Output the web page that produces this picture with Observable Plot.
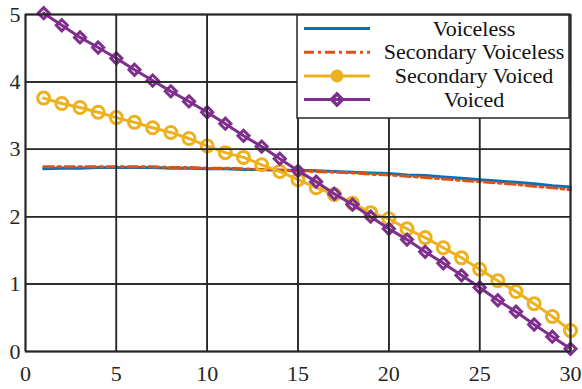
<!DOCTYPE html>
<html>
<head>
<meta charset="utf-8">
<script src="https://cdn.jsdelivr.net/npm/d3@7"></script>
<script src="https://cdn.jsdelivr.net/npm/@observablehq/plot@0.6"></script>
<style>
  html, body { margin: 0; padding: 0; background: #fff; }
  #chart svg { display: block; }
  #chart svg text { font-family: "Liberation Serif", "Times New Roman", Times, serif !important; }
</style>
</head>
<body>
<div id="chart"></div>
<script>
// ---- data ----
const xs = [1,2,3,4,5,6,7,8,9,10,11,12,13,14,15,16,17,18,19,20,21,22,23,24,25,26,27,28,29,30];
const voiceless = [2.71,2.72,2.72,2.73,2.73,2.73,2.73,2.72,2.72,2.71,2.71,2.70,2.70,2.69,2.69,2.68,2.67,2.66,2.65,2.64,2.62,2.61,2.59,2.57,2.55,2.53,2.51,2.49,2.46,2.44];
const secondaryVoiceless = [2.74,2.74,2.74,2.74,2.74,2.74,2.74,2.73,2.73,2.72,2.72,2.71,2.70,2.69,2.68,2.67,2.66,2.65,2.63,2.62,2.60,2.58,2.56,2.54,2.52,2.50,2.48,2.45,2.43,2.40];
const secondaryVoiced = [3.76,3.68,3.62,3.55,3.47,3.40,3.32,3.25,3.16,3.05,2.95,2.88,2.77,2.67,2.55,2.43,2.33,2.20,2.06,1.97,1.82,1.69,1.54,1.39,1.22,1.05,0.89,0.71,0.52,0.31];
const voiced = [5.02,4.84,4.66,4.51,4.35,4.18,4.02,3.86,3.71,3.55,3.38,3.20,3.04,2.86,2.68,2.52,2.34,2.18,2.00,1.82,1.66,1.48,1.31,1.13,0.95,0.76,0.59,0.40,0.22,0.04];
const seriesNames = ["Voiceless","Secondary Voiceless","Secondary Voiced","Voiced"];
const xTicks = [0,5,10,15,20,25,30];
const yTicks = [0,1,2,3,4,5];

const colors = {"Voiceless":"#0072BD","Secondary Voiceless":"#D95319","Secondary Voiced":"#EDB120","Voiced":"#7E2F8E"};
const pts = (arr) => xs.map((x,i) => ({x, y: arr[i]}));
const FONT = "Liberation Serif";
const DASH = "10,4,3,4";

const chart = Plot.plot({
  width: 582, height: 389,
  marginLeft: 25, marginRight: 12, marginTop: 14, marginBottom: 38,
  style: {fontFamily: FONT, fontSize: "22px", color: "#262626", background: "#fff"},
  x: {domain: [0,30], ticks: xTicks},
  y: {domain: [0,5], ticks: yTicks},
  marks: [
    Plot.gridX(xTicks, {stroke: "#a8a8a8", strokeOpacity: 1, strokeWidth: 1.3}),
    Plot.gridY(yTicks, {stroke: "#a8a8a8", strokeOpacity: 1, strokeWidth: 1.3}),
    Plot.line(pts(voiceless), {x:"x", y:"y", stroke: colors["Voiceless"], strokeWidth: 3}),
    Plot.line(pts(secondaryVoiceless), {x:"x", y:"y", stroke: colors["Secondary Voiceless"], strokeWidth: 3, strokeDasharray: DASH}),
    Plot.line(pts(secondaryVoiced), {x:"x", y:"y", stroke: colors["Secondary Voiced"], strokeWidth: 3}),
    Plot.dot(pts(secondaryVoiced), {x:"x", y:"y", r: 6, stroke: colors["Secondary Voiced"], strokeWidth: 3, fill: "none"}),
    Plot.line(pts(voiced), {x:"x", y:"y", stroke: colors["Voiced"], strokeWidth: 3}),
    Plot.dot(pts(voiced), {x:"x", y:"y", r: 5, symbol: "diamond2", stroke: colors["Voiced"], strokeWidth: 3, fill: "none"}),
    Plot.frame({stroke: "#262626", strokeWidth: 1.5}),
    Plot.axisX(xTicks, {anchor: "bottom", tickSize: 0, tickPadding: 14, label: null, fontSize: 22, tickFormat: d => String(d)}),
    Plot.axisY(yTicks, {anchor: "left", tickSize: 0, tickPadding: 5, label: null, fontSize: 22, tickFormat: d => String(d)}),
    Plot.tickX(xTicks, {x: d => d, y1: 0, y2: 0.075, stroke: "#262626", strokeWidth: 1.5}),
    Plot.tickX(xTicks, {x: d => d, y1: 5, y2: 4.925, stroke: "#262626", strokeWidth: 1.5}),
    Plot.tickY(yTicks, {y: d => d, x1: 0, x2: 0.28, stroke: "#262626", strokeWidth: 1.5}),
    Plot.tickY(yTicks, {y: d => d, x1: 30, x2: 29.72, stroke: "#262626", strokeWidth: 1.5})
  ]
});
document.getElementById("chart").appendChild(chart);

// shift the top y label like the reference
const svg = d3.select(chart);
svg.selectAll("text").each(function() {
  const t = d3.select(this);
  if (t.text() === "5" && t.attr("x") !== null && +t.attr("x") < 30) t.attr("dy", "0.68em");
});

// ---- legend (inside plot, top right) ----
const lg = svg.append("g").attr("font-family", FONT).attr("font-size", 22);
lg.append("rect").attr("x", 297).attr("y", 15).attr("width", 272).attr("height", 103)
  .attr("fill", "#fff").attr("stroke", "#262626").attr("stroke-width", 1.5);
seriesNames.forEach((name, i) => {
  const cy = 28.5 + i * 23.7;
  const c = colors[name];
  const line = lg.append("line").attr("x1", 304).attr("x2", 370).attr("y1", cy).attr("y2", cy)
    .attr("stroke", c).attr("stroke-width", 3);
  if (name === "Secondary Voiceless") line.attr("stroke-dasharray", DASH);
  if (name === "Secondary Voiced") {
    lg.append("circle").attr("cx", 337).attr("cy", cy).attr("r", 5).attr("fill", c).attr("stroke", c).attr("stroke-width", 3);
  }
  if (name === "Voiced") {
    lg.append("path").attr("d", d3.symbol(d3.symbolDiamond2, Math.PI * 25)()).attr("transform", `translate(337,${cy})`)
      .attr("fill", "none").attr("stroke", c).attr("stroke-width", 3.5);
  }
  lg.append("text").attr("x", 474).attr("y", cy).attr("dy", "0.33em").attr("text-anchor", "middle")
    .attr("fill", "#111").text(name);
});
</script>
</body>
</html>
